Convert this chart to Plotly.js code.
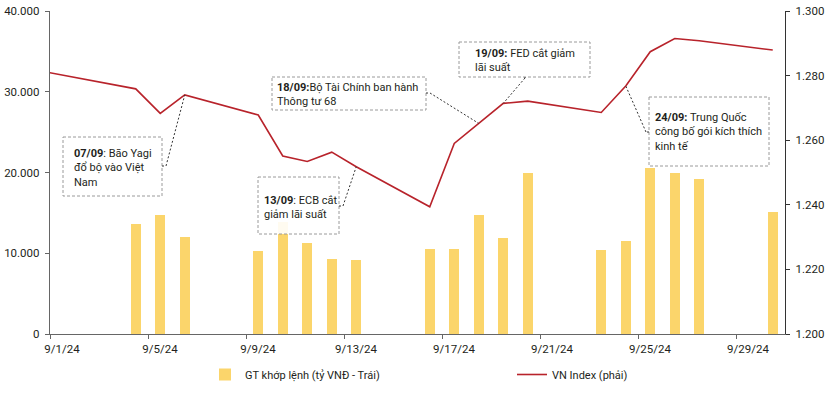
<!DOCTYPE html>
<html>
<head>
<meta charset="utf-8">
<script src="https://cdn.plot.ly/plotly-3.0.1.min.js"></script>
<style>html,body{margin:0;padding:0;background:#fff;}#chart{width:832px;height:394px;}</style>
</head>
<body>
<div id="chart"></div>
<script>
// ---- data ----
const tradingDays = ['2024-09-04','2024-09-05','2024-09-06','2024-09-09','2024-09-10','2024-09-11','2024-09-12','2024-09-13','2024-09-16','2024-09-17','2024-09-18','2024-09-19','2024-09-20','2024-09-23','2024-09-24','2024-09-25','2024-09-26','2024-09-27','2024-09-30'];
const volumeValues = [13600, 14700, 12050, 10240, 13900, 11230, 9290, 9130, 10530, 10530, 14770, 11930, 19950, 10400, 11550, 20520, 19980, 19230, 15070];
const lineDates = ['2024-08-30'].concat(tradingDays);
const vnIndexValues = [1283.0, 1275.9, 1268.3, 1274.0, 1267.8, 1255.1, 1253.4, 1256.3, 1251.8, 1239.4, 1259.0, 1265.2, 1271.4, 1272.1, 1268.6, 1276.8, 1287.4, 1291.5, 1290.8, 1287.9];
const tickDates = ['2024-09-01','2024-09-05','2024-09-09','2024-09-13','2024-09-17','2024-09-21','2024-09-25','2024-09-29'];
const tickLabels = ['9/1/24','9/5/24','9/9/24','9/13/24','9/17/24','9/21/24','9/25/24','9/29/24'];
const seriesNames = ['GT khớp lệnh (tỷ VNĐ - Trái)', 'VN Index (phải)'];
const notes = [
  {date:'2024-09-06', text:'<b>07/09</b>: Bão Yagi<br>đổ bộ vào Việt<br>Nam'},
  {date:'2024-09-13', text:'<b>13/09</b>: ECB cắt<br>giảm lãi suất'},
  {date:'2024-09-18', text:'<b>18/09:</b>Bộ Tài Chính ban hành<br>Thông tư 68'},
  {date:'2024-09-19', text:'<b>19/09:</b> FED cắt giảm<br>lãi suất'},
  {date:'2024-09-24', text:'<b>24/09:</b> Trung Quốc<br>công bố gói kích thích<br>kinh tế'}
];

// ---- geometry helpers (pixel -> data coordinates) ----
const DAY = 86400000;
const L = 50, R = 785, T = 11, B = 334;
const xStart = Date.UTC(2024,7,31,12), xEnd = Date.UTC(2024,8,30,12);
const msPerPx = (xEnd - xStart) / (R - L);
const px2x = px => xStart + (px - L) * msPerPx;
const py2y2 = py => 1300 - (py - T) * (100 / (B - T));
const half = d => Date.parse(d + 'T00:00:00Z') - DAY/2;

// box layout (pixels)
const boxes = [
  {x0:63, x1:162, y0:137, y1:196, tx:72, ty:168, hook:[[162,166],[166,166]]},
  {x0:258, x1:339, y0:177, y1:234, tx:262, ty:207, hook:[[339,206],[343,206]]},
  {x0:272, x1:426, y0:77, y1:110, tx:275, ty:94.5, hook:[[426,93],[430,93]]},
  {x0:459, x1:590, y0:42, y1:77, tx:473, ty:60, hook:[[525,77],[525,78]]},
  {x0:649, x1:769, y0:97, y1:166, tx:653, ty:132, hook:[[649,132],[646,132]]}
];

const shapes = [];
const annotations = [];
const FONT = 'Roboto, "Noto Sans", sans-serif';
notes.forEach((n, i) => {
  const b = boxes[i];
  shapes.push({type:'rect', xref:'x', yref:'y2', x0:px2x(b.x0), x1:px2x(b.x1), y0:py2y2(b.y0), y1:py2y2(b.y1),
    fillcolor:'rgba(255,255,255,0.9)', line:{color:'#9a9a9a', width:1, dash:'3px,2px'}, layer:'above'});
  const idx = lineDates.indexOf(n.date);
  const h = b.hook;
  shapes.push({type:'line', xref:'x', yref:'y2', x0:px2x(h[0][0]), y0:py2y2(h[0][1]), x1:px2x(h[1][0]), y1:py2y2(h[1][1]),
    line:{color:'#333', width:1, dash:'2px,2px'}, layer:'above'});
  shapes.push({type:'line', xref:'x', yref:'y2', x0:px2x(h[1][0]), y0:py2y2(h[1][1]), x1:Date.parse(lineDates[idx]+'T00:00:00Z'), y1:vnIndexValues[idx],
    line:{color:'#333', width:1, dash:'2px,2px'}, layer:'above'});
  annotations.push({xref:'x', yref:'y2', x:px2x(b.tx), y:py2y2(b.ty), xanchor:'left', yanchor:'middle', align:'left',
    showarrow:false, text:n.text, font:{family:FONT, size:11, color:'#231f20'}});
});

const traces = [
  {type:'bar', name:seriesNames[0], x:tradingDays, y:volumeValues, yaxis:'y', width:0.42*DAY,
   marker:{color:'#FBD56B', line:{width:0}}, hoverinfo:'skip'},
  {type:'scatter', mode:'lines', name:seriesNames[1], x:lineDates, y:vnIndexValues, yaxis:'y2',
   line:{color:'#B8232B', width:1.6}, hoverinfo:'skip'}
];

const layout = {
  width:832, height:394,
  margin:{l:L, r:832-R, t:T, b:394-B, pad:0, autoexpand:false},
  paper_bgcolor:'#fff', plot_bgcolor:'#fff',
  separators:',.',
  font:{family:FONT, size:11.5, color:'#231f20'},
  showlegend:true,
  bargap:0,
  xaxis:{type:'date', range:[xStart, xEnd], tickmode:'array', tickvals:tickDates.map(half), ticktext:tickLabels,
    ticklabelshift:12, ticks:'outside', ticklen:4, tickcolor:'#666', showline:true, linecolor:'#666', linewidth:1.2,
    showgrid:false, zeroline:false, tickfont:{size:11.5}, automargin:false},
  yaxis:{range:[0,40000], dtick:10000, tickformat:',.0f', ticks:'outside', ticklen:4, tickcolor:'#666',
    showline:true, linecolor:'#666', linewidth:1.2, showgrid:false, zeroline:false, ticklabelstandoff:3, automargin:false},
  yaxis2:{overlaying:'y', side:'right', range:[1200,1300], dtick:20, tickformat:',.0f', ticks:'outside', ticklen:4,
    tickcolor:'#333', showline:true, linecolor:'#333', linewidth:1.2, showgrid:false, zeroline:false, ticklabelstandoff:3, automargin:false},
  legend:{orientation:'h', x:(205-L)/(R-L), xanchor:'left', y:(B-360)/(B-T), yanchor:'top',
    font:{family:FONT, size:11, color:'#231f20'}, entrywidth:262, entrywidthmode:'pixels', bgcolor:'rgba(0,0,0,0)'},
  shapes:shapes,
  annotations:annotations
};

Plotly.newPlot('chart', traces, layout, {staticPlot:true, displayModeBar:false});
</script>
</body>
</html>
